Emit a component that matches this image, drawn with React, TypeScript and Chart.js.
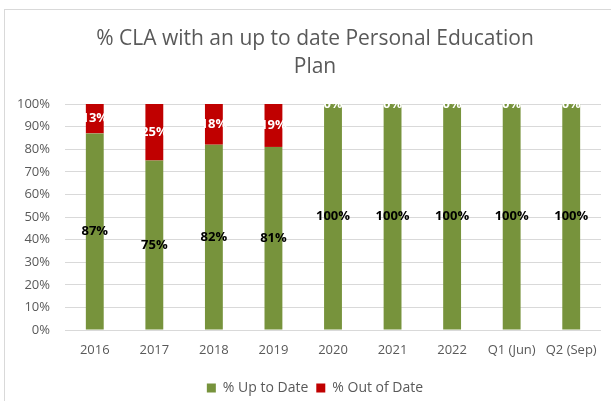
import React, { useEffect, useRef } from 'react';
import { Chart, registerables } from 'chart.js';

Chart.register(...registerables);

const categories = ['2016', '2017', '2018', '2019', '2020', '2021', '2022', 'Q1 (Jun)', 'Q2 (Sep)'];
const upToDate = [87, 75, 82, 81, 100, 100, 100, 100, 100];
const outOfDate = [13, 25, 18, 19, 0, 0, 0, 0, 0];
const titleLines = ['% CLA with an up to date Personal Education', 'Plan'];
const seriesNames = ['% Up to Date', '% Out of Date'];

const FONT = '"Open Sans", "Noto Sans", sans-serif';
const GREEN = '#77933C';
const RED = '#C00000';
const TEXT = '#595959';

const labelPlugin = {
  id: 'barLabels',
  afterDatasetsDraw(chart: any) {
    const ctx = chart.ctx;
    ctx.save();
    ctx.font = `bold 13px ${FONT}`;
    ctx.textAlign = 'center';
    ctx.textBaseline = 'middle';
    chart.data.datasets.forEach((ds: any, di: number) => {
      const meta = chart.getDatasetMeta(di);
      meta.data.forEach((el: any, i: number) => {
        const v = ds.data[i];
        const y = (el.y + el.base) / 2;
        ctx.fillStyle = di === 0 ? '#000000' : '#FFFFFF';
        ctx.fillText(`${v}%`, el.x, y);
      });
    });
    ctx.restore();
  },
};

const borderPlugin = {
  id: 'frame',
  beforeDraw(chart: any) {
    const ctx = chart.ctx;
    ctx.save();
    ctx.fillStyle = '#ffffff';
    ctx.fillRect(0, 0, chart.width, chart.height);
    ctx.strokeStyle = '#D9D9D9';
    ctx.lineWidth = 1;
    ctx.strokeRect(4.5, 9.5, 1000, 1000);
    ctx.restore();
  },
};

export default function App() {
  const ref = useRef<HTMLCanvasElement>(null);
  useEffect(() => {
    const chart = new Chart(ref.current as HTMLCanvasElement, {
      type: 'bar',
      data: {
        labels: categories,
        datasets: [
          { label: seriesNames[0], data: upToDate, backgroundColor: GREEN, barPercentage: 0.3, categoryPercentage: 1 },
          { label: seriesNames[1], data: outOfDate, backgroundColor: RED, barPercentage: 0.3, categoryPercentage: 1 },
        ],
      },
      options: {
        responsive: false,
        animation: false,
        devicePixelRatio: 1,
        layout: { padding: { left: 0, right: 0, top: 0, bottom: -4 } },
        plugins: {
          title: {
            display: true,
            text: titleLines,
            color: TEXT,
            font: { family: FONT, size: 21, weight: 'normal', lineHeight: 28 / 21 },
            padding: { top: 25, bottom: 23 },
          },
          legend: {
            position: 'bottom',
            labels: {
              color: TEXT,
              font: { family: FONT, size: 14 },
              boxWidth: 9,
              boxHeight: 9,
              padding: 8,
            },
          },
          tooltip: { enabled: false },
        },
        scales: {
          x: {
            stacked: true,
            grid: { display: false, drawTicks: false },
            border: { display: false },
            ticks: { color: TEXT, font: { family: FONT, size: 13 }, padding: 12, maxRotation: 0, autoSkip: false },
            afterFit: (s: any) => { s.height = 43; },
          },
          y: {
            stacked: true,
            min: 0,
            max: 100,
            grid: { color: '#D9D9D9', drawTicks: false },
            border: { display: false },
            ticks: {
              stepSize: 10,
              color: TEXT,
              font: { family: FONT, size: 13 },
              padding: 15,
              callback: (v: any) => `${v}%`,
            },
            afterFit: (s: any) => { s.width = 65; },
          },
          yRight: {
            type: 'linear',
            position: 'right',
            display: true,
            grid: { display: false, drawTicks: false },
            border: { display: false },
            ticks: { display: false },
            afterFit: (s: any) => { s.width = 29; },
          },
        },
      },
      plugins: [borderPlugin, labelPlugin],
    });
    return () => chart.destroy();
  }, []);
  return (
    <div style={{ position: 'fixed', left: 0, top: 0, width: 611, height: 401, overflow: 'hidden', background: '#fff' }}>
      <canvas ref={ref} width={630} height={401} style={{ display: 'block', width: 630, height: 401 }} />
    </div>
  );
}
